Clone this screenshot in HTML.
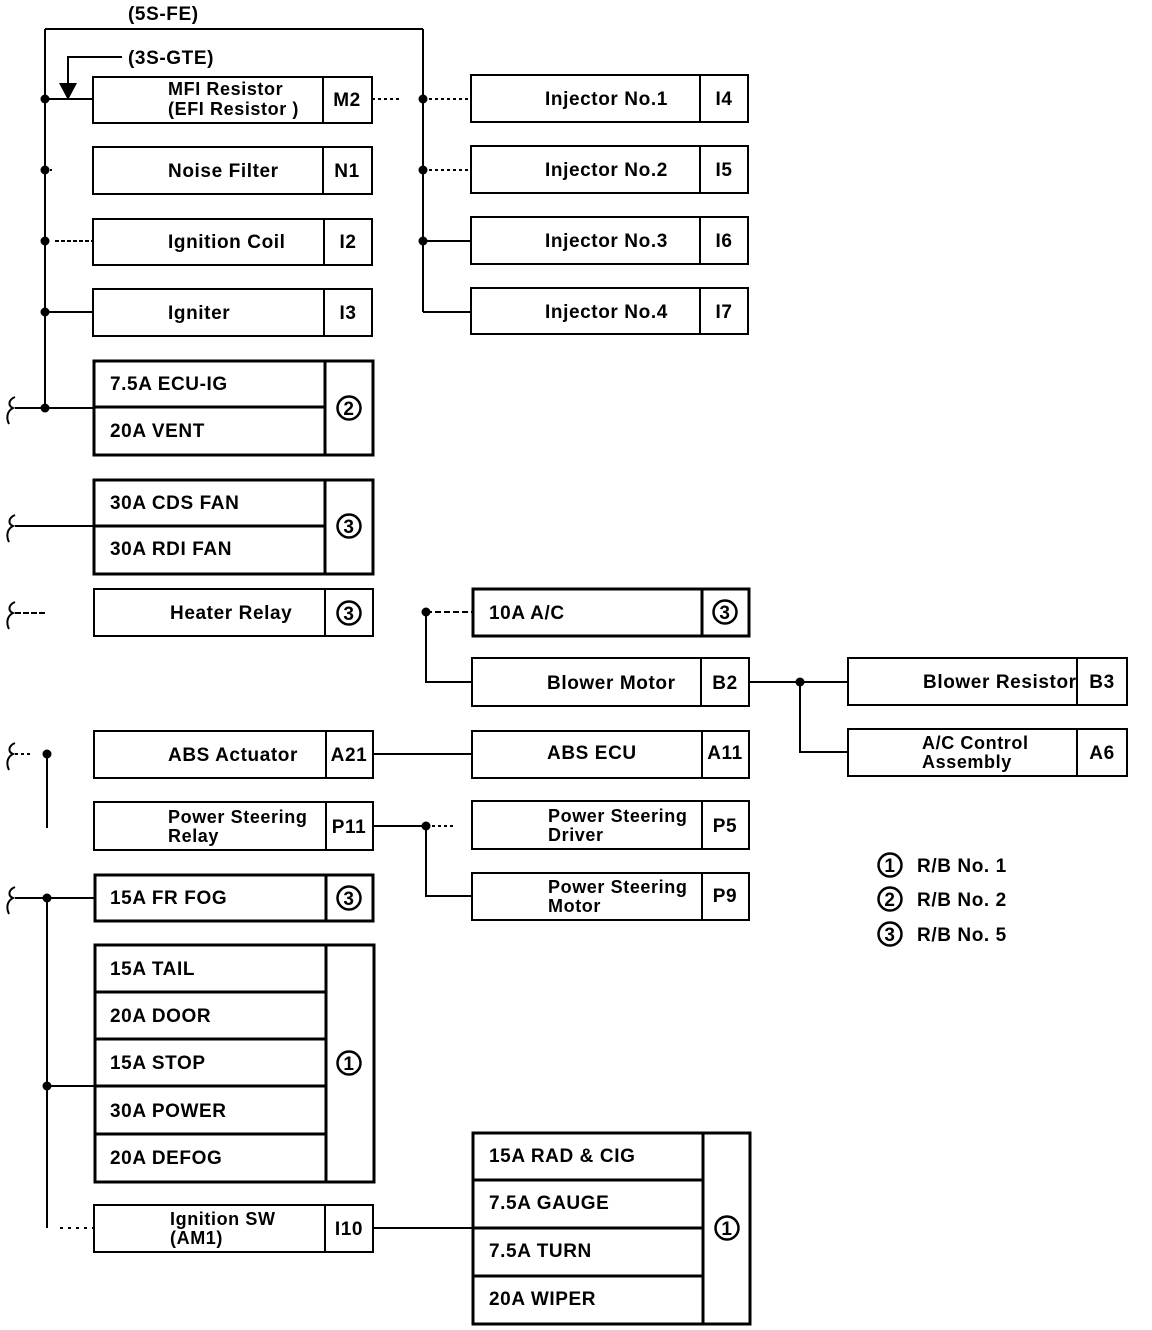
<!DOCTYPE html>
<html><head><meta charset="utf-8"><style>
html,body{margin:0;padding:0;background:#fff}
svg{display:block}
text{font-family:"Liberation Sans",Arial,sans-serif;font-weight:bold;font-size:19px;fill:#000;letter-spacing:0.6px}
.s{font-size:18px}
</style></head><body>
<svg width="1152" height="1330" viewBox="0 0 1152 1330" xmlns="http://www.w3.org/2000/svg">
<g stroke="#000" fill="none" stroke-width="2">
<line x1="45" y1="29" x2="45" y2="408"/>
<line x1="45" y1="29" x2="423" y2="29"/>
<line x1="423" y1="29" x2="423" y2="312"/>
<line x1="423" y1="312" x2="471" y2="312"/>
<polyline points="122,57 68,57 68,88"/>
<line x1="45" y1="99" x2="93" y2="99"/>
<line x1="45" y1="170" x2="55" y2="170" stroke-dasharray="2,3"/>
<line x1="55" y1="241" x2="93" y2="241" stroke-dasharray="4,2"/>
<line x1="45" y1="312" x2="93" y2="312"/>
<line x1="15" y1="408" x2="93" y2="408"/>
<line x1="15" y1="526" x2="93" y2="526"/>
<line x1="15" y1="613" x2="45" y2="613" stroke-dasharray="6,2"/>
<line x1="372" y1="99" x2="400" y2="99" stroke-dasharray="3,3"/>
<line x1="423" y1="99" x2="471" y2="99" stroke-dasharray="3,3"/>
<line x1="423" y1="170" x2="471" y2="170" stroke-dasharray="3,3"/>
<line x1="423" y1="241" x2="471" y2="241"/>
<polyline points="426,612 426,682 472,682"/>
<line x1="426" y1="612" x2="472" y2="612" stroke-dasharray="6,3"/>
<line x1="749" y1="682" x2="848" y2="682"/>
<polyline points="800,682 800,752 848,752"/>
<line x1="15" y1="754" x2="30" y2="754" stroke-dasharray="3,3"/>
<line x1="47" y1="754" x2="47" y2="828"/>
<line x1="373" y1="754" x2="472" y2="754"/>
<line x1="373" y1="826" x2="426" y2="826"/>
<line x1="426" y1="826" x2="455" y2="826" stroke-dasharray="3,3"/>
<polyline points="426,826 426,896 472,896"/>
<line x1="15" y1="898" x2="94" y2="898"/>
<line x1="47" y1="898" x2="47" y2="1228"/>
<line x1="47" y1="1086" x2="94" y2="1086"/>
<line x1="60" y1="1228" x2="94" y2="1228" stroke-dasharray="3,5"/>
<line x1="373" y1="1228" x2="472" y2="1228"/>
<path d="M15,397 C8,400 8,406 13,408 C7,411 6,418 9,424"/>
<path d="M15,515 C8,518 8,524 13,526 C7,529 6,536 9,542"/>
<path d="M15,602 C8,605 8,611 13,613 C7,616 6,623 9,629"/>
<path d="M15,743 C8,746 8,752 13,754 C7,757 6,764 9,770"/>
<path d="M15,887 C8,890 8,896 13,898 C7,901 6,908 9,914"/>
<rect x="93" y="77" width="279" height="46"/><line x1="323" y1="77" x2="323" y2="123"/>
<rect x="93" y="147" width="279" height="47"/><line x1="323" y1="147" x2="323" y2="194"/>
<rect x="93" y="219" width="279" height="46"/><line x1="324" y1="219" x2="324" y2="265"/>
<rect x="93" y="289" width="279" height="47"/><line x1="324" y1="289" x2="324" y2="336"/>
<rect x="94" y="589" width="279" height="47"/><line x1="325" y1="589" x2="325" y2="636"/>
<rect x="94" y="731" width="279" height="47"/><line x1="326" y1="731" x2="326" y2="778"/>
<rect x="94" y="802" width="279" height="48"/><line x1="326" y1="802" x2="326" y2="850"/>
<rect x="94" y="1205" width="279" height="47"/><line x1="325" y1="1205" x2="325" y2="1252"/>
<rect x="471" y="75" width="277" height="47"/><line x1="700" y1="75" x2="700" y2="122"/>
<rect x="471" y="146" width="277" height="47"/><line x1="700" y1="146" x2="700" y2="193"/>
<rect x="471" y="217" width="277" height="47"/><line x1="700" y1="217" x2="700" y2="264"/>
<rect x="471" y="288" width="277" height="46"/><line x1="700" y1="288" x2="700" y2="334"/>
<rect x="472" y="658" width="277" height="48"/><line x1="701" y1="658" x2="701" y2="706"/>
<rect x="472" y="731" width="277" height="47"/><line x1="702" y1="731" x2="702" y2="778"/>
<rect x="472" y="801" width="277" height="48"/><line x1="702" y1="801" x2="702" y2="849"/>
<rect x="472" y="873" width="277" height="47"/><line x1="702" y1="873" x2="702" y2="920"/>
<rect x="848" y="658" width="279" height="47"/><line x1="1077" y1="658" x2="1077" y2="705"/>
<rect x="848" y="729" width="279" height="47"/><line x1="1077" y1="729" x2="1077" y2="776"/>
</g>
<g stroke="#000" fill="none" stroke-width="3">
<rect x="94" y="361" width="279" height="94"/><line x1="325" y1="361" x2="325" y2="455"/><line x1="94" y1="407" x2="325" y2="407"/>
<rect x="94" y="480" width="279" height="94"/><line x1="325" y1="480" x2="325" y2="574"/><line x1="94" y1="526" x2="325" y2="526"/>
<rect x="473" y="589" width="276" height="47"/><line x1="702" y1="589" x2="702" y2="636"/>
<rect x="95" y="875" width="278" height="46"/><line x1="326" y1="875" x2="326" y2="921"/>
<rect x="95" y="945" width="279" height="237"/><line x1="326" y1="945" x2="326" y2="1182"/>
<line x1="95" y1="992" x2="326" y2="992"/><line x1="95" y1="1039" x2="326" y2="1039"/><line x1="95" y1="1086" x2="326" y2="1086"/><line x1="95" y1="1134" x2="326" y2="1134"/>
<rect x="473" y="1133" width="277" height="191"/><line x1="703" y1="1133" x2="703" y2="1324"/>
<line x1="473" y1="1180" x2="703" y2="1180"/><line x1="473" y1="1228" x2="703" y2="1228"/><line x1="473" y1="1276" x2="703" y2="1276"/>
</g>
<g fill="#000">
<circle cx="45" cy="99" r="4.5"/><circle cx="45" cy="170" r="4.5"/><circle cx="45" cy="241" r="4.5"/><circle cx="45" cy="312" r="4.5"/><circle cx="45" cy="408" r="4.5"/>
<circle cx="423" cy="99" r="4.5"/><circle cx="423" cy="170" r="4.5"/><circle cx="423" cy="241" r="4.5"/>
<circle cx="426" cy="612" r="4.5"/><circle cx="800" cy="682" r="4.5"/><circle cx="47" cy="754" r="4.5"/><circle cx="426" cy="826" r="4.5"/>
<circle cx="47" cy="898" r="4.5"/><circle cx="47" cy="1086" r="4.5"/>
<polygon points="59,83 77,83 68,100"/>
</g>
<g fill="none" stroke="#000" stroke-width="2.5">
<circle cx="349" cy="408" r="11.5"/><circle cx="349" cy="526" r="11.5"/><circle cx="349" cy="613" r="11.5"/>
<circle cx="725" cy="612" r="11.5"/><circle cx="349" cy="898" r="11.5"/><circle cx="349" cy="1063" r="11.5"/><circle cx="727" cy="1228" r="11.5"/>
<circle cx="890" cy="865" r="11.5"/><circle cx="890" cy="899" r="11.5"/><circle cx="890" cy="934" r="11.5"/>
</g>
<g text-anchor="middle">
<text x="349" y="415">2</text><text x="349" y="533">3</text><text x="349" y="620">3</text>
<text x="725" y="619">3</text><text x="349" y="905">3</text><text x="349" y="1070">1</text><text x="727" y="1235">1</text>
<text x="890" y="872">1</text><text x="890" y="906">2</text><text x="890" y="941">3</text>
</g>
<text x="128" y="20">(5S-FE)</text>
<text x="128" y="64">(3S-GTE)</text>
<text x="168" y="95" class="s">MFI Resistor</text>
<text x="168" y="115" class="s">(EFI  Resistor )</text>
<text x="168" y="177">Noise Filter</text>
<text x="168" y="248">Ignition  Coil</text>
<text x="168" y="319">Igniter</text>
<text x="110" y="390">7.5A ECU-IG</text>
<text x="110" y="437">20A VENT</text>
<text x="110" y="509">30A CDS FAN</text>
<text x="110" y="555">30A  RDI  FAN</text>
<text x="170" y="619">Heater Relay</text>
<text x="168" y="761">ABS  Actuator</text>
<text x="168" y="823" class="s">Power Steering</text>
<text x="168" y="842" class="s">Relay</text>
<text x="110" y="904">15A FR FOG</text>
<text x="110" y="975">15A TAIL</text>
<text x="110" y="1022">20A DOOR</text>
<text x="110" y="1069">15A STOP</text>
<text x="110" y="1117">30A POWER</text>
<text x="110" y="1164">20A DEFOG</text>
<text x="170" y="1225" class="s">Ignition  SW</text>
<text x="170" y="1244" class="s">(AM1)</text>
<g text-anchor="middle">
<text x="347" y="106">M2</text><text x="347" y="177">N1</text><text x="348" y="248">I2</text><text x="348" y="319">I3</text>
<text x="349" y="761">A21</text><text x="349" y="833">P11</text><text x="349" y="1235">I10</text>
<text x="724" y="105">I4</text><text x="724" y="176">I5</text><text x="724" y="247">I6</text><text x="724" y="318">I7</text>
<text x="725" y="689">B2</text><text x="725" y="759">A11</text><text x="725" y="832">P5</text><text x="725" y="902">P9</text>
<text x="1102" y="688">B3</text><text x="1102" y="759">A6</text>
</g>
<text x="545" y="105">Injector No.1</text>
<text x="545" y="176">Injector No.2</text>
<text x="545" y="247">Injector No.3</text>
<text x="545" y="318">Injector No.4</text>
<text x="489" y="619">10A A/C</text>
<text x="547" y="689">Blower Motor</text>
<text x="547" y="759">ABS ECU</text>
<text x="548" y="822" class="s">Power Steering</text>
<text x="548" y="841" class="s">Driver</text>
<text x="548" y="893" class="s">Power Steering</text>
<text x="548" y="912" class="s">Motor</text>
<text x="923" y="688">Blower Resistor</text>
<text x="922" y="749" class="s">A/C Control</text>
<text x="922" y="768" class="s">Assembly</text>
<text x="489" y="1162">15A RAD &amp; CIG</text>
<text x="489" y="1209">7.5A GAUGE</text>
<text x="489" y="1257">7.5A TURN</text>
<text x="489" y="1305">20A WIPER</text>
<text x="917" y="872">R/B No.  1</text>
<text x="917" y="906">R/B No.  2</text>
<text x="917" y="941">R/B No.  5</text>
</svg>
</body></html>
